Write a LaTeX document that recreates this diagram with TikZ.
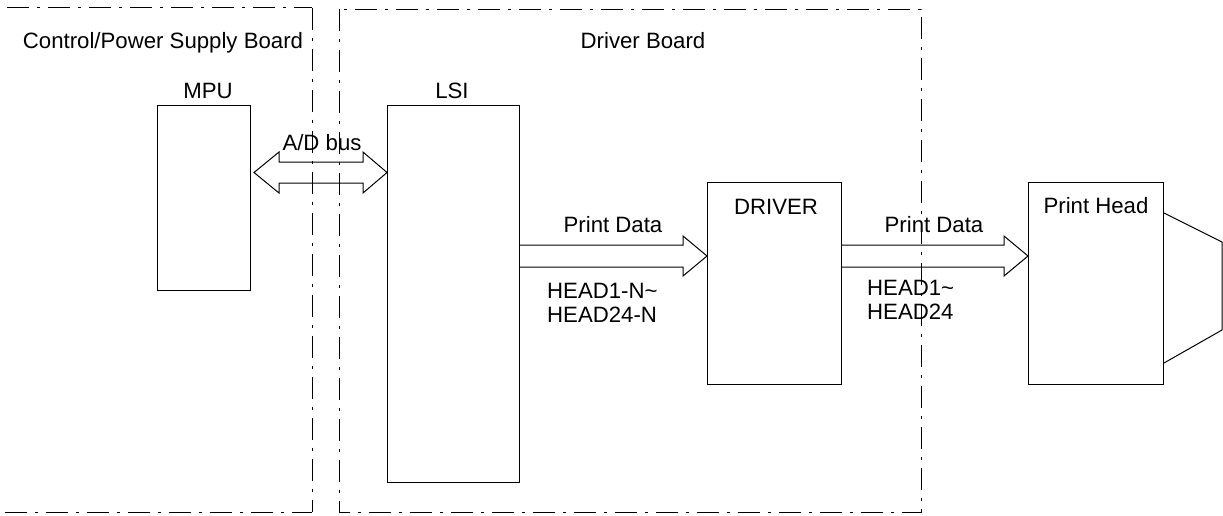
\documentclass[tikz,border=0pt]{standalone}
\usepackage{fontspec}
\setmainfont{Liberation Sans}
\begin{document}
\begin{tikzpicture}[x=1pt,y=-1pt,
  box/.style={draw,line width=1pt,inner sep=0pt,anchor=north west},
  lbl/.style={inner sep=0pt,anchor=base,font=\fontsize{22.2}{24}\selectfont},
  lbll/.style={inner sep=0pt,anchor=base west,align=left,font=\fontsize{22.2}{24}\selectfont},
  bus/.style={draw,line width=1pt,line join=miter},
  board/.style={draw,line width=1pt,dash pattern=on 22pt off 8pt on 3pt off 8pt}]
\useasboundingbox (0,0) rectangle (1223,515);
% boards
\draw[board] (7,7.5) -- (312,7.5);
\draw[board] (312,7.5) -- (312,512);
\draw[board] (5,512) -- (312,512);
\draw[board] (339,9) rectangle (921,512);
\node[lbl] (cpb) at (163,48) {Control/Power Supply Board};
\node[lbl] (drb) at (643,48) {Driver Board};
% boxes
\node[box,minimum width=93pt,minimum height=185pt] (mpu) at (157,105) {};
\node[box,minimum width=132pt,minimum height=377pt] (lsi) at (387,105) {};
\node[box,minimum width=134pt,minimum height=202pt] (drv) at (707,182) {};
\node[box,minimum width=135pt,minimum height=202pt] (ph) at (1028,182) {};
\node[lbl] (mpul) at (208,98) {MPU};
\node[lbl] (lsil) at (452,98) {LSI};
\node[lbl] (drvl) at (776,214) {DRIVER};
\node[lbl] (phl) at (1096,213) {Print Head};
% print head nozzle
\draw[line width=1pt] (ph.east |- 0,213) -- (1222,242) -- (1222,330) -- (ph.east |- 0,363);
% A/D bus
\coordinate (adl) at ([xshift=3pt]mpu.east |- 0,172.5);
\draw[bus] (adl) -- ++(25,-20.5) -- ++(0,10) -- ++(84,0) -- ++(0,-10) -- ++(24,20.5)
  -- ++(-24,20.5) -- ++(0,-10) -- ++(-84,0) -- ++(0,10) -- cycle;
\node[lbl] (adbl) at (322,150) {A/D bus};
% print data 1
\coordinate (p1) at (lsi.east |- 0,256);
\coordinate (t1) at (drv.west |- 0,256);
\draw[bus] ([yshift=-11pt]p1) -- ([xshift=-24pt,yshift=-11pt]t1) -- ([xshift=-24pt,yshift=-20pt]t1)
  -- (t1) -- ([xshift=-24pt,yshift=20pt]t1) -- ([xshift=-24pt,yshift=11pt]t1) -- ([yshift=11pt]p1);
\node[lbl] (pd1) at (613,232) {Print Data};
\node[lbll] (h1) at (547,322) {HEAD1-N\char"7E\\HEAD24-N};
% print data 2
\coordinate (p2) at (drv.east |- 0,256);
\coordinate (t2) at (ph.west |- 0,256);
\draw[bus] ([yshift=-11pt]p2) -- ([xshift=-24pt,yshift=-11pt]t2) -- ([xshift=-24pt,yshift=-20pt]t2)
  -- (t2) -- ([xshift=-24pt,yshift=20pt]t2) -- ([xshift=-24pt,yshift=11pt]t2) -- ([yshift=11pt]p2);
\node[lbl] (pd2) at (934,232) {Print Data};
\node[lbll] (h2) at (867,319) {HEAD1\char"7E\\HEAD24};
\end{tikzpicture}
\end{document}
